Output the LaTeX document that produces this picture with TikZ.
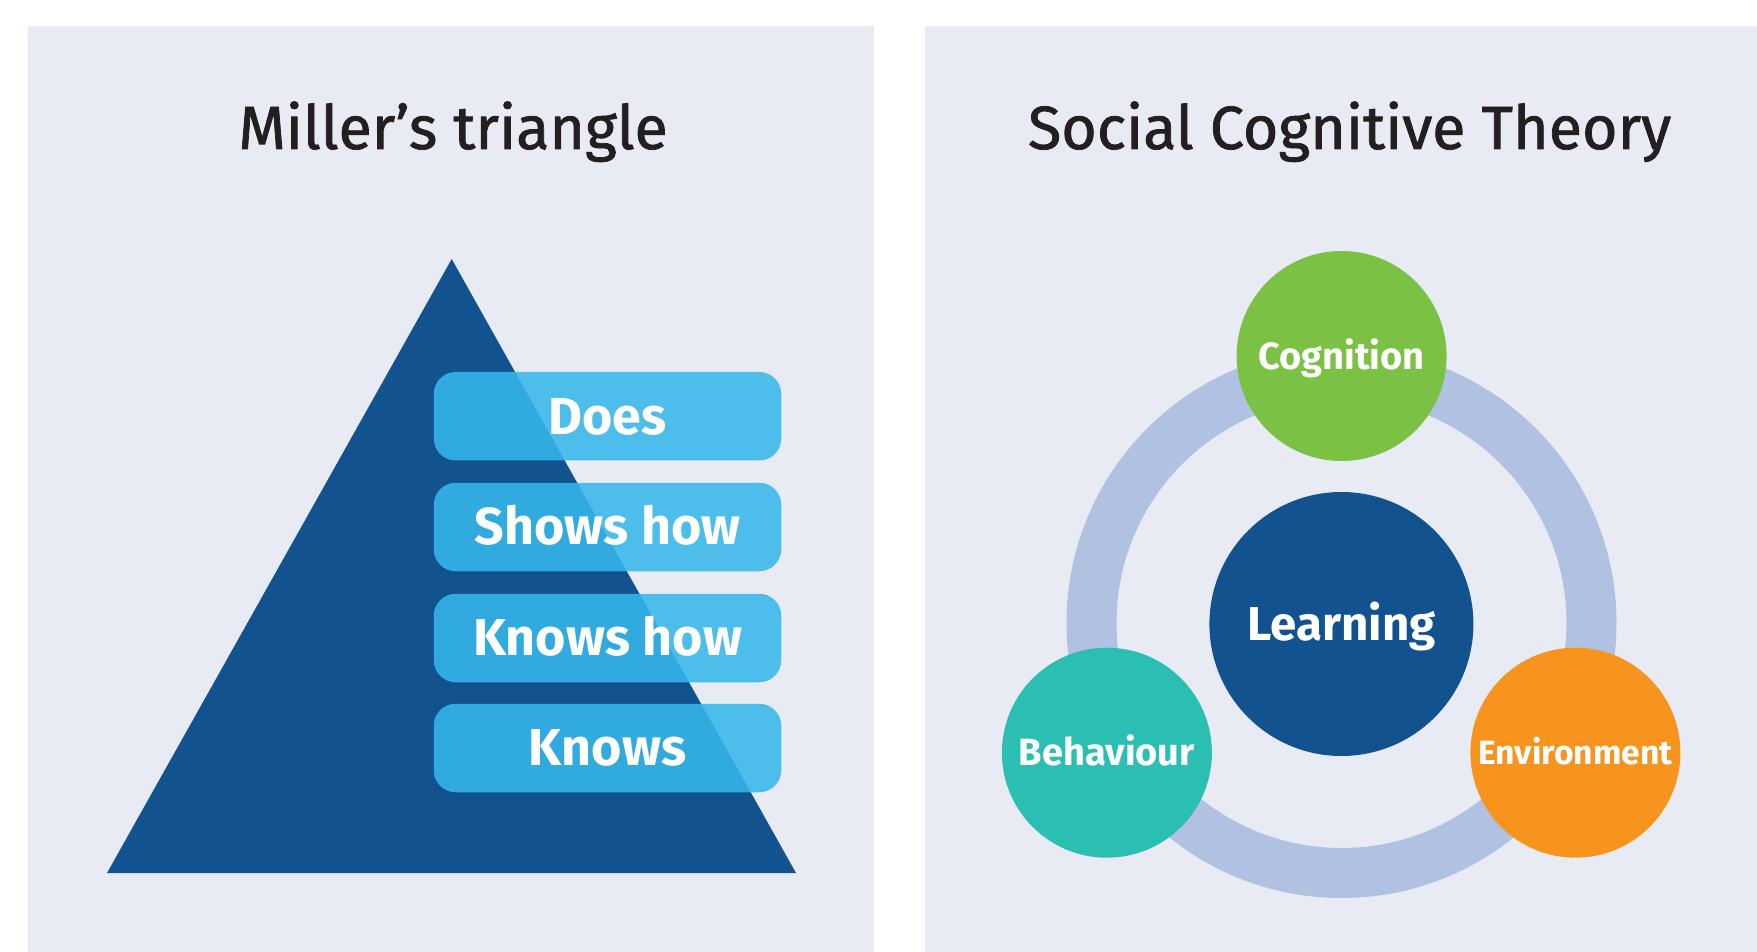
\documentclass[tikz,border=0pt]{standalone}
\usepackage{fontspec}
\setmainfont{Fira Sans}
\newfontfamily\headfont{Fira Sans}[FakeBold=1.2]

\definecolor{panelbg}{RGB}{232,235,244}
\definecolor{navy}{RGB}{18,83,143}
\definecolor{skyblue}{RGB}{54,184,235}
\definecolor{ringblue}{RGB}{177,193,225}
\definecolor{leaf}{RGB}{123,193,67}
\definecolor{teal}{RGB}{43,191,179}
\definecolor{amber}{RGB}{247,148,30}
\definecolor{ink}{RGB}{35,31,32}

\tikzset{
  heading/.style={anchor=base, text=ink, font=\headfont\fontsize{61}{61}\selectfont, inner sep=0pt},
  rung/.style={rectangle, rounded corners=22pt, minimum width=347.5pt, minimum height=88.5pt,
    inner sep=0pt, fill=skyblue, fill opacity=0.87, text opacity=1, text=white,
    font=\bfseries\fontsize{52}{52}\selectfont, text height=35.8pt, text depth=0pt},
  factor/.style={circle, minimum size=210pt, inner sep=0pt, text=white,
    font=\bfseries\fontsize{38}{38}\selectfont, text height=26pt, text depth=0pt},
}

\begin{document}
\begin{tikzpicture}[x=1pt,y=-1pt]
\useasboundingbox (0,0) rectangle (1757,952);
\fill[white] (0,0) rectangle (1757,952);

% two panels
\fill[panelbg] (27.6,26) rectangle (874,952);
\fill[panelbg] (925,26) rectangle (1757,952);

% headings
\node[heading] (millertitle) at (453,149) {Miller’s triangle};
\node[heading] (scttitle) at (1349.6,149) {Social Cognitive Theory};

% Miller's pyramid
\fill[navy] (451.7,259) -- (107,873) -- (796,873) -- cycle;
\node[rung] (does) at (607.5,416.2) {Does};
\node[rung] (showshow) at (607.5,527) {Shows how};
\node[rung] (knowshow) at (607.5,638) {Knows how};
\node[rung] (knows) at (607.5,748) {Knows};

% triadic reciprocal model
\draw[ringblue, line width=50pt] (1341.5,623) circle (250pt);
\node[factor, fill=leaf] (cognition) at (1341.6,356) {Cognition};
\node[factor, fill=teal] (behaviour) at (1106.9,752.7) {Behaviour};
\node[factor, fill=amber, font=\bfseries\fontsize{33.6}{33.6}\selectfont, text height=23.2pt] (environment) at (1575.4,752.7) {Environment};
\node[factor, fill=navy, minimum size=264pt, font=\bfseries\fontsize{47.5}{47.5}\selectfont, text height=32.7pt] (learning) at (1341.4,624) {Learning};
\end{tikzpicture}
\end{document}
